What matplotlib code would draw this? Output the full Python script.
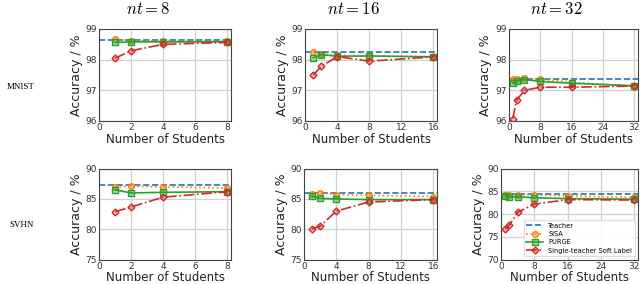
import matplotlib
matplotlib.use("Agg")
import matplotlib.pyplot as plt

plt.rcParams["mathtext.fontset"] = "cm"

# number of students per panel
students = {8: [1, 2, 4, 8], 16: [1, 2, 4, 8, 16], 32: [1, 2, 4, 8, 16, 32]}

# MNIST
mnist_teacher = {8: 98.65, 16: 98.24, 32: 97.37}
mnist_sisa = {8: [98.67, 98.62, 98.6, 98.6],
              16: [98.24, 98.19, 98.14, 98.12, 98.1],
              32: [97.37, 97.36, 97.41, 97.36, 97.27, 97.12]}
mnist_purge = {8: [98.56, 98.58, 98.58, 98.58],
               16: [98.06, 98.16, 98.11, 98.12, 98.09],
               32: [97.23, 97.31, 97.35, 97.29, 97.23, 97.15]}
mnist_single = {8: [98.05, 98.29, 98.5, 98.56],
                16: [97.5, 97.78, 98.1, 97.95, 98.09],
                32: [96.08, 96.68, 97.0, 97.1, 97.1, 97.14]}

# SVHN
svhn_teacher = {8: 87.3, 16: 86.0, 32: 84.5}
svhn_sisa = {8: [87.0, 87.1, 87.0, 86.8],
             16: [85.8, 86.0, 85.7, 85.6, 85.4],
             32: [84.2, 84.3, 84.3, 84.2, 84.0, 83.7]}
svhn_purge = {8: [86.5, 86.0, 86.1, 86.2],
              16: [85.5, 85.1, 85.0, 84.9, 84.9],
              32: [84.0, 83.8, 83.8, 83.6, 83.4, 83.3]}
svhn_single = {8: [82.9, 83.7, 85.3, 86.2],
               16: [80.1, 80.5, 83.0, 84.5, 84.9],
               32: [76.7, 77.6, 80.4, 82.2, 83.2, 83.1]}

nts = [8, 16, 32]
xticks = {8: [0, 2, 4, 6, 8], 16: [0, 4, 8, 12, 16], 32: [0, 8, 16, 24, 32]}

fig = plt.figure(figsize=(6.4, 2.84), dpi=100)

lefts = [0.155, 0.477, 0.795]
widths = [0.206, 0.206, 0.202]
bottom_lefts = [0.155, 0.475, 0.783]
bottom_widths = [0.206, 0.208, 0.214]

blue, orange, green, red = "#1f77b4", "#ff7f0e", "#2ca02c", "#d62728"


def draw(ax, nt, teacher, sisa, purge, single, ylim, yticks, legend=False):
    x = students[nt]
    ax.axhline(teacher[nt], color=blue, ls="--", lw=1.2, label="Teacher", zorder=2)
    ax.plot(x, sisa[nt], color=orange, ls=":", lw=1.2, marker="o", ms=4,
            mfc=(1, 0.5, 0.05, 0.4), mec=orange, label="SISA", zorder=3)
    ax.plot(x, purge[nt], color=green, ls="-", lw=1.2, marker="s", ms=4,
            mfc=(0.17, 0.63, 0.17, 0.4), mec=green, label="PURGE", zorder=4)
    ax.plot(x, single[nt], color=red, ls="-.", lw=1.2, marker="D", ms=3.5,
            mfc=(0.84, 0.15, 0.16, 0.3), mec=red,
            label="Single-teacher Soft Label", zorder=5)
    ax.set_xlim(0, nt * 1.03)
    ax.set_xticks(xticks[nt])
    ax.set_ylim(*ylim)
    ax.set_yticks(yticks)
    ax.grid(True, color="#d0d0d0", lw=0.9)
    ax.set_axisbelow(True)
    ax.tick_params(length=0, pad=1.5, labelsize=6.5, colors="#333333")
    for s in ax.spines.values():
        s.set_color("#444444")
        s.set_linewidth(0.8)
    ax.set_xlabel("Number of Students", fontsize=8.5, labelpad=0.5, color="#222222")
    ax.set_ylabel("Accuracy / %", fontsize=9, labelpad=2, color="#222222")
    if legend:
        ax.legend(loc="lower right", fontsize=4.8, frameon=True, framealpha=0.9,
                  edgecolor="#dddddd", handlelength=2.5, borderpad=0.4,
                  labelspacing=0.35, fancybox=False)


for i, nt in enumerate(nts):
    ax = fig.add_axes([lefts[i], 0.574, widths[i], 0.324])
    draw(ax, nt, mnist_teacher, mnist_sisa, mnist_purge, mnist_single,
         (96, 99), [96, 97, 98, 99])
    fig.text(lefts[i] + widths[i] / 2 - 0.027, 0.97, f"$nt = {nt}$",
             ha="center", va="center", fontsize=12)

    ax = fig.add_axes([bottom_lefts[i], 0.086, bottom_widths[i], 0.32])
    if nt == 32:
        draw(ax, nt, svhn_teacher, svhn_sisa, svhn_purge, svhn_single,
             (70, 90), [70, 75, 80, 85, 90], legend=True)
    else:
        draw(ax, nt, svhn_teacher, svhn_sisa, svhn_purge, svhn_single,
             (75, 90), [75, 80, 85, 90])

fig.text(0.033, 0.695, "MNIST", ha="center", va="center", fontsize=6.5,
         family="Liberation Serif")
fig.text(0.033, 0.208, "SVHN", ha="center", va="center", fontsize=6.5,
         family="Liberation Serif")

fig.savefig("out.png", dpi=100)
